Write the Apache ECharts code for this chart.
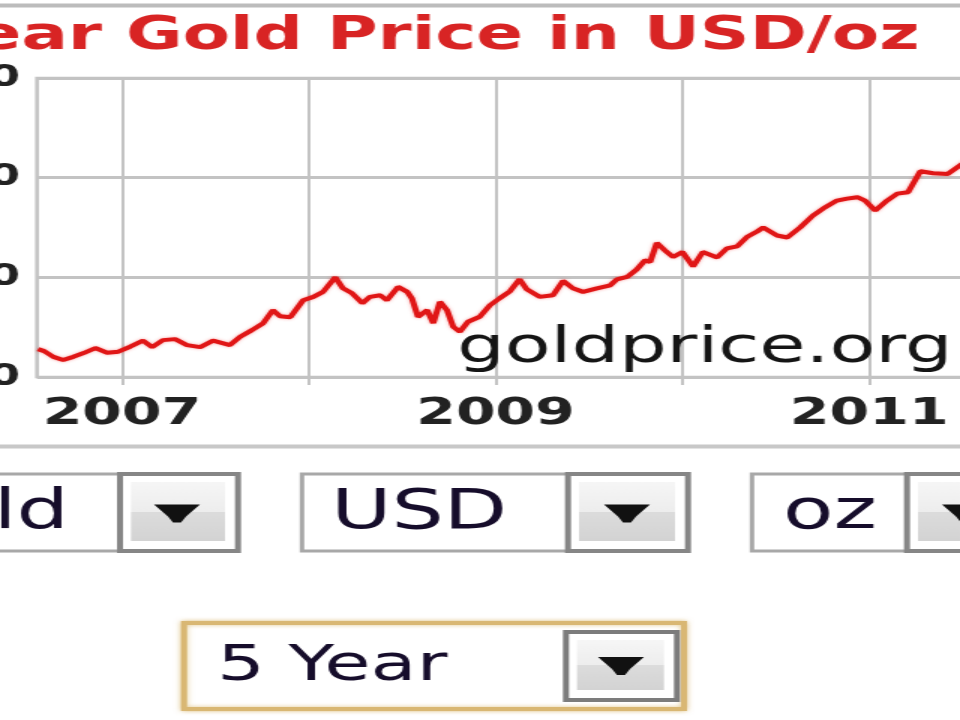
<!DOCTYPE html>
<html>
<head>
<meta charset="utf-8">
<script src="https://cdn.jsdelivr.net/npm/echarts@6/dist/echarts.min.js"></script>
<style>
html,body{margin:0;padding:0;background:#fff;overflow:hidden;width:960px;height:720px;}
#main{width:640px;height:720px;transform:scaleX(1.5);transform-origin:0 0;}
</style>
</head>
<body>
<div id="main"></div>
<script>
// ---- data ----
const dates = [
 '2006-07-21','2006-08-02','2006-08-20','2006-09-08','2006-09-28','2006-10-18','2006-11-10','2006-12-03','2006-12-25',
 '2007-01-17','2007-02-11','2007-03-01','2007-03-22','2007-04-15','2007-05-08','2007-06-03','2007-06-28','2007-07-31',
 '2007-08-20','2007-09-12','2007-10-04','2007-10-23','2007-11-06','2007-11-26','2007-12-21',
 '2008-01-10','2008-01-29','2008-02-22','2008-03-08','2008-03-26','2008-04-15','2008-04-30','2008-05-20','2008-06-02',
 '2008-06-24','2008-07-12','2008-07-21','2008-08-02','2008-08-20','2008-09-01','2008-09-14','2008-09-28','2008-10-10',
 '2008-10-23','2008-11-08','2008-12-01','2008-12-21',
 '2009-01-09','2009-01-29','2009-02-17','2009-03-03','2009-03-28','2009-04-23','2009-05-13','2009-06-01','2009-06-21',
 '2009-07-18','2009-08-13','2009-08-26','2009-09-15','2009-10-04','2009-10-20','2009-10-30','2009-11-12','2009-11-28',
 '2009-12-14',
 '2010-01-01','2010-01-22','2010-02-10','2010-03-10','2010-03-29','2010-04-18','2010-05-07','2010-05-27','2010-06-08',
 '2010-07-05','2010-07-25','2010-08-19','2010-09-13','2010-10-03','2010-10-30','2010-11-19','2010-12-09','2010-12-24',
 '2011-01-13','2011-02-05','2011-02-25','2011-03-18','2011-04-11','2011-05-06','2011-06-03','2011-06-22','2011-07-08',
 '2011-07-18'
];
const prices = [
 640,630,601,585,601,620,645,622,627,
 652,682,650,685,690,660,650,682,660,
 702,735,770,835,805,800,885,
 902,927,1000,945,920,870,902,910,885,
 952,927,895,802,835,770,877,835,752,
 727,777,802,860,
 895,930,990,940,902,910,982,945,927,
 945,960,990,1002,1040,1085,1077,1172,1135,
 1102,
 1127,1055,1127,1100,1145,1155,1202,1230,1250,
 1210,1200,1250,1310,1345,1385,1395,1402,1385,
 1335,1385,1420,1427,1532,1522,1518,1552,1580,
 1565
];
const rangeStart = '2006-07-19';
const rangeEnd = '2011-07-19';
const tickYears = [2007, 2008, 2009, 2010, 2011];
const labelYears = [2007, 2009, 2011];
const yTicks = [500, 1000, 1500, 2000];
const titleText = '5 Year Gold Price in USD/oz';
const watermarkText = 'goldprice.org';
const selectorLabels = ['Gold', 'USD', 'oz'];
const periodLabel = '5 Year';

// ---- helpers ----
function toYear(s) {
  const p = s.split('-').map(Number);
  const t0 = Date.UTC(p[0], 0, 1), t1 = Date.UTC(p[0] + 1, 0, 1);
  return p[0] + (Date.UTC(p[0], p[1] - 1, p[2]) - t0) / (t1 - t0);
}
const K = 1 / 1.5; // page is stretched 1.5x horizontally
const FONT = 'DejaVu Sans';
const GRID = '#c3c3c3';

function rect(x0, y0, x1, y1, style) {
  return { type: 'rect', shape: { x: x0 * K, y: y0, width: (x1 - x0) * K, height: y1 - y0 }, style: style };
}
function hline(y, color, w) {
  return { type: 'line', z: 20, shape: { x1: 0, y1: y, x2: 640, y2: y }, style: { stroke: color, lineWidth: w } };
}
function btnGrad() {
  return new echarts.graphic.LinearGradient(0, 0, 0, 1, [
    { offset: 0, color: '#f6f6f6' }, { offset: 0.5, color: '#ededed' },
    { offset: 0.5, color: '#dcdcdc' }, { offset: 1, color: '#d3d3d3' }
  ]);
}
function arrow(cx, cy) {
  const pts = [[-23,-9],[23,-9],[16,-3],[9,3],[4,9],[-4,9],[-9,3],[-16,-3]];
  return { type: 'polygon', shape: { points: pts.map(p => [(cx + p[0]) * K, cy + p[1]]) }, style: { fill: '#111' } };
}
function button(x0, y0, x1, y1, border) {
  return [
    rect(x0, y0, x1, y1, { fill: '#fff', stroke: border, lineWidth: 4 }),
    rect(x0 + 11, y0 + 8, x1 - 13, y1 - 10, { fill: btnGrad() })
  ];
}
function label(text, x, y, size, align) {
  return { type: 'text', x: x * K, y: y, style: { text: text, fontSize: size, fontFamily: FONT,
    fill: '#160d2b', textAlign: align, textVerticalAlign: 'middle', verticalAlign: 'middle' } };
}
function dropdown(fx0, bx0, bx1, y0, y1, text, tx, align, acx) {
  return [rect(fx0, y0, bx0, y1, { fill: '#fff', stroke: '#a8a8a8', lineWidth: 3 })]
    .concat(button(bx0, y0, bx1, y1, '#868686'))
    .concat([arrow(acx, (y0 + y1) / 2 + 1), label(text, tx, 514, 55, align)]);
}

const graphics = [].concat(
  [{ type: 'text', x: 457 * K, y: 349, z: 1, style: { text: watermarkText, fontSize: 50, fontFamily: FONT,
      fill: '#151515', textAlign: 'left', textVerticalAlign: 'middle', verticalAlign: 'middle' } }],
  dropdown(-100, 120, 238, 474, 551, selectorLabels[0], 69, 'right', 177),
  dropdown(302, 568, 688, 474, 551, selectorLabels[1], 331, 'left', 627),
  dropdown(752, 907, 1025, 474, 551, selectorLabels[2], 783, 'left', 965),
  [rect(184, 623, 684, 709, { fill: '#fff', stroke: '#d9b773', lineWidth: 4, shadowBlur: 4, shadowColor: 'rgba(214,176,96,0.7)' })],
  button(566, 632, 677, 700, '#7c7c7c'),
  [arrow(621, 666), label(periodLabel, 217, 667, 50, 'left')],
  [hline(5.5, '#bcbcbc', 4), hline(446.5, '#c8c8c8', 4)]
);

const chart = echarts.init(document.getElementById('main'), null, { renderer: 'canvas', devicePixelRatio: 1 });
chart.setOption({
  animation: false,
  backgroundColor: '#ffffff',
  title: {
    text: titleText, right: 27, top: 14, padding: 0,
    textStyle: { fontFamily: FONT, fontWeight: 'bold', fontSize: 46, color: '#d82424' }
  },
  grid: {
    left: 37 * K, top: 78, width: 934 * K, height: 299,
    show: true, borderColor: GRID, borderWidth: 2.5, backgroundColor: '#fff',
    containLabel: false, outerBoundsMode: 'none'
  },
  xAxis: {
    type: 'value', min: toYear(rangeStart), max: toYear(rangeEnd),
    axisLine: { show: false },
    axisTick: { show: true, customValues: tickYears, length: 8, lineStyle: { color: GRID, width: 2 } },
    axisLabel: {
      customValues: labelYears, formatter: v => String(Math.round(v)),
      fontFamily: FONT, fontWeight: 'bold', fontSize: 38, color: '#222', margin: 18
    },
    splitLine: { show: true, lineStyle: { color: GRID, width: 2 } }
  },
  yAxis: {
    type: 'value', min: yTicks[0], max: yTicks[yTicks.length - 1], interval: yTicks[1] - yTicks[0],
    axisLine: { show: false }, axisTick: { show: false },
    axisLabel: { fontFamily: FONT, fontWeight: 'bold', fontSize: 30, color: '#222', margin: 11.3 },
    splitLine: { show: true, lineStyle: { color: GRID, width: 3 } }
  },
  graphic: graphics,
  series: [{
    type: 'line', showSymbol: false, symbol: 'none', z: 5,
    data: dates.map((d, i) => [toYear(d), prices[i]]),
    lineStyle: { color: '#e01616', width: 4, shadowBlur: 3, shadowColor: 'rgba(240,40,40,0.45)' }
  }]
});
</script>
</body>
</html>
